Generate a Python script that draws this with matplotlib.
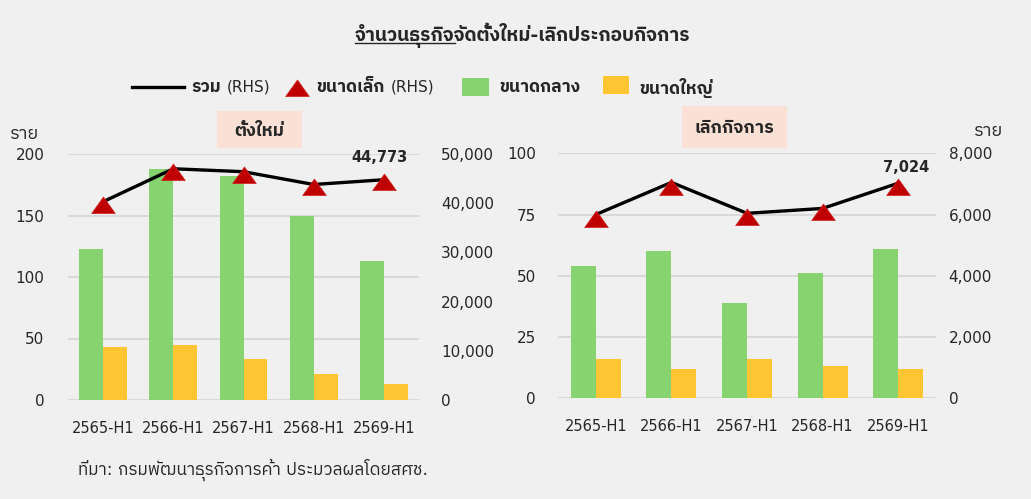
import matplotlib
matplotlib.use("Agg")
import matplotlib.pyplot as plt
from matplotlib import font_manager
from matplotlib.ft2font import FT2Font
from matplotlib.lines import Line2D
from matplotlib.patches import Rectangle
from matplotlib.ticker import FuncFormatter

# ---------------- data ----------------
categories = ["2565-H1", "2566-H1", "2567-H1", "2568-H1", "2569-H1"]

new_medium = [123, 188, 182, 150, 113]
new_large = [43, 45, 33, 21, 13]
new_total = [40300, 47000, 46400, 43800, 44773]
new_small = [40134, 46767, 46185, 43629, 44647]

close_medium = [54, 60, 39, 51, 61]
close_large = [16, 12, 16, 13, 12]
close_total = [6000, 7050, 6040, 6200, 7024]
close_small = [5930, 6978, 5985, 6136, 6951]

title_text = "จำนวนธุรกิจจัดตั้งใหม่-เลิกประกอบกิจการ"
title_ul_part = "จำนวนธุรกิจ"
legend_labels = ["รวม (RHS)", "ขนาดเล็ก (RHS)", "ขนาดกลาง", "ขนาดใหญ่"]
panel_labels = ["ตั้งใหม่", "เลิกกิจการ"]
unit_label = "ราย"
source_text = "ที่มา: กรมพัฒนาธุรกิจการค้า ประมวลผลโดยสศช."

# ---------------- fonts ----------------
thai_candidates = []
for f in font_manager.fontManager.ttflist:
    try:
        ft = FT2Font(f.fname)
        if 0x0E01 in ft.get_charmap():
            thai_candidates.append(f.name)
    except Exception:
        pass
pref = [n for n in thai_candidates if "Thai" in n] + thai_candidates
FAMS = ["DejaVu Sans"] + ([pref[0]] if pref else [])
plt.rcParams["font.family"] = FAMS

W, H = 1031, 499
BG = "#F0F0F0"
GREEN = "#86D370"
YELLOW = "#FFC532"
RED = "#C00000"
GRID = "#D9D9D9"
TXT = "#262626"
BOX = "#FBE0D5"

fig = plt.figure(figsize=(W / 100, H / 100), dpi=100, facecolor=BG)


def fx(px):
    return px / W


def fy(py):
    return 1 - py / H


tri = [(-1, -0.85), (1, -0.85), (0, 0.55), (-1, -0.85)]


def panel(rect, medium, large, total, small, ylim, yticks, y2lim, y2ticks,
          bw, lpad, rpad):
    ax = fig.add_axes(rect)
    ax.set_facecolor("none")
    x = list(range(len(categories)))
    ax.bar([i - bw / 2 for i in x], medium, width=bw, color=GREEN, zorder=2)
    ax.bar([i + bw / 2 for i in x], large, width=bw, color=YELLOW, zorder=2)
    ax.set_xlim(-0.5, len(categories) - 0.5)
    ax.set_ylim(*ylim)
    ax.set_yticks(yticks)
    ax.set_xticks(x)
    ax.set_xticklabels(categories)
    ax.yaxis.grid(True, color=GRID, lw=1.5)
    ax.set_axisbelow(True)
    for s in ax.spines.values():
        s.set_visible(False)
    ax.tick_params(axis="both", length=0, colors=TXT)
    ax.tick_params(axis="x", pad=15, labelsize=10.5)
    ax.tick_params(axis="y", pad=lpad, labelsize=11)
    ax2 = ax.twinx()
    ax2.plot(x, total, color="black", lw=2.4, zorder=3, solid_capstyle="round")
    ax2.plot(x, small, ls="none", marker=tri, ms=17, color=RED,
             mec="#D02020", mew=0.5, zorder=4)
    ax2.set_ylim(*y2lim)
    ax2.set_yticks(y2ticks)
    ax2.yaxis.set_major_formatter(FuncFormatter(lambda v, p: f"{int(v):,}"))
    for s in ax2.spines.values():
        s.set_visible(False)
    ax2.tick_params(axis="y", length=0, labelsize=11, colors=TXT, pad=rpad)
    return ax, ax2


axL, axL2 = panel([fx(68), fy(400), fx(419) - fx(68), fy(154) - fy(400)],
                  new_medium, new_large, new_total, new_small,
                  (0, 200), [0, 50, 100, 150, 200],
                  (0, 50000), [0, 10000, 20000, 30000, 40000, 50000],
                  0.34, 17, 16)
axR, axR2 = panel([fx(558), fy(398.3), fx(936) - fx(558), fy(153.3) - fy(398.3)],
                  close_medium, close_large, close_total, close_small,
                  (0, 100), [0, 25, 50, 75, 100],
                  (0, 8000), [0, 2000, 4000, 6000, 8000],
                  0.33, 16, 9)

axL2.annotate(f"{new_total[-1]:,}", (4, new_total[-1]), xytext=(-4, 22),
              textcoords="offset pixels", ha="center", va="center",
              fontsize=10.5, fontweight="bold", color=TXT, zorder=5)
axR2.annotate(f"{close_total[-1]:,}", (4, close_total[-1]), xytext=(8, 16),
              textcoords="offset pixels", ha="center", va="center",
              fontsize=10.5, fontweight="bold", color=TXT, zorder=5)

# panel label boxes
for (x0, y0, x1, y1), lab in zip([(217, 111, 302, 148), (682, 106, 787, 148)],
                                 panel_labels):
    fig.add_artist(Rectangle((fx(x0), fy(y1)), fx(x1) - fx(x0),
                             fy(y0) - fy(y1), transform=fig.transFigure,
                             fc=BOX, ec="none", zorder=0))
    fig.text(fx((x0 + x1) / 2), fy((y0 + y1) / 2 + 1), lab, ha="center",
             va="center", fontsize=12.8, fontweight="bold", color=TXT)

fig.text(fx(25), fy(134), unit_label, ha="center", va="center",
         fontsize=13, color=TXT)
fig.text(fx(989), fy(131), unit_label, ha="center", va="center",
         fontsize=13, color=TXT)

# legend (manual)
LY = 86.5
fig.add_artist(Line2D([fx(132), fx(184)], [fy(LY), fy(LY)], color="black",
                      lw=2.4, transform=fig.transFigure))
fig.add_artist(Line2D([fx(296.5)], [fy(LY - 1)], ls="none", marker=tri, ms=17,
                      color=RED, mec="#D02020", mew=0.5,
                      transform=fig.transFigure))
fig.add_artist(Rectangle((fx(462), fy(96)), fx(489) - fx(462), fy(78) - fy(96),
                         transform=fig.transFigure, fc=GREEN, ec="none"))
fig.add_artist(Rectangle((fx(603), fy(94)), fx(629) - fx(603), fy(76) - fy(94),
                         transform=fig.transFigure, fc=YELLOW, ec="none"))
fig.canvas.draw()
r = fig.canvas.get_renderer()
for xpos, lab in zip([191, 316, 499, 639], legend_labels):
    if " (" in lab:
        thai, rest = lab.split(" ", 1)
        t1 = fig.text(fx(xpos), fy(LY + 1), thai, ha="left", va="center",
                      fontsize=12.5, fontweight="bold", color=TXT)
        x_end = t1.get_window_extent(r).x1
        fig.text((x_end + 6) / W, fy(LY), rest, ha="left", va="center",
                 fontsize=11, color=TXT)
    else:
        fig.text(fx(xpos), fy(LY + 1), lab, ha="left", va="center",
                 fontsize=12.5, fontweight="bold", color=TXT)

# title with partial underline
tt = fig.text(fx(523), fy(40.5), title_text, ha="center", va="baseline",
              fontsize=13.8, fontweight="bold", color=TXT)
fig.canvas.draw()
r = fig.canvas.get_renderer()
bb = tt.get_window_extent(r)
tmp = fig.text(0, 0, title_ul_part, fontsize=13.8, fontweight="bold")
w = tmp.get_window_extent(r).width
tmp.remove()
fig.add_artist(Line2D([bb.x0 / W, (bb.x0 + w) / W],
                      [fy(42.8), fy(42.8)],
                      color=TXT, lw=1.0, transform=fig.transFigure))

fig.text(fx(78), fy(470), source_text, ha="left", va="center",
         fontsize=12.3, color=TXT)

fig.savefig("out.png", dpi=100, facecolor=BG)
